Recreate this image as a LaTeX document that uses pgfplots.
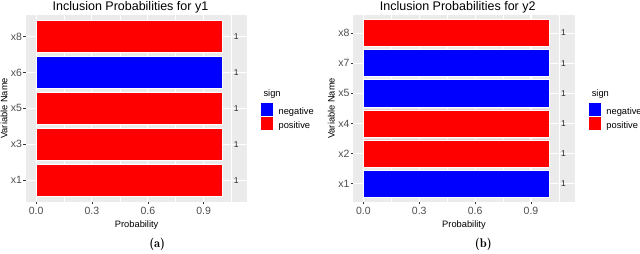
\documentclass[border=0pt]{standalone}
\usepackage{fontspec}
\newfontfamily\arial{Liberation Sans}
\usepackage{pgfplots}
\pgfplotsset{compat=1.18}
\definecolor{ggbg}{HTML}{EBEBEB}
\definecolor{ggtext}{HTML}{4D4D4D}
\definecolor{ggtk}{HTML}{333333}
\definecolor{ggblue}{HTML}{0000FF}
\definecolor{ggred}{HTML}{FF0000}
\pgfplotsset{
  negkey/.style={legend image code/.code={\path[fill=ggblue,draw=white,line width=0.4pt] (0pt,-4.3pt) rectangle (12.7pt,9.1pt);}},
  poskey/.style={legend image code/.code={\path[fill=ggred,draw=white,line width=0.4pt] (0pt,-4.3pt) rectangle (12.7pt,9.1pt);}},
  ggstyle/.style={
    scale only axis, width=221.3pt, height=186.7pt,
    anchor=south west,
    axis background/.style={fill=ggbg},
    axis line style={draw=none},
    xmin=-0.054, xmax=1.134,
    xtick={0,0.3,0.6,0.9}, xticklabels={0.0,0.3,0.6,0.9},
    minor xtick={0.15,0.45,0.75,1.05},
    xmajorgrids, xminorgrids, ymajorgrids,
    major grid style={white, line width=1.1pt},
    minor grid style={white, line width=0.55pt},
    tick align=outside, xtick pos=bottom, ytick pos=left,
    major tick length=2.75pt, minor tick length=0pt,
    major tick style={ggtk, line width=0.55pt},
    tick label style={font=\arial\fontsize{10.5}{12}\selectfont, text=ggtext},
    /pgf/number format/assume math mode=true,
    xticklabel style={anchor=north, inner sep=0pt, yshift=-3pt},
    yticklabel style={anchor=east, inner sep=0pt, xshift=-1pt},
    xlabel={Probability}, ylabel={Variable Name},
    label style={font=\arial\fontsize{9.3}{11}\selectfont},
    xlabel style={at={(axis description cs:0.5,-0.1366)}, anchor=base},
    ylabel style={at={(axis description cs:-0.0994,0.5)}, anchor=center},
    title style={at={(axis description cs:0.472,1)}, anchor=base, yshift=-1pt, font=\arial\fontsize{12.5}{14}\selectfont},
    legend style={anchor=north west, draw=none, fill=none, inner sep=0pt, outer sep=0pt, row sep=0pt,
      font=\arial\fontsize{9.3}{11}\selectfont, nodes={inner sep=0pt},
      /tikz/every odd column/.append style={column sep=5.5pt}},
    legend cell align=left,
  },
  lab/.style={only marks, mark=none, forget plot, nodes near coords={1},
    every node near coord/.style={font=\arial\fontsize{8.5}{9}\selectfont, anchor=center, text=black!85}},
}
\begin{document}
\begin{tikzpicture}
\useasboundingbox (0,0) rectangle (640pt,254pt);
\begin{axis}[ggstyle, at={(26pt,52.3pt)},
  ymin=0.4, ymax=5.6, ytick={1,2,3,4,5}, yticklabels={x1,x3,x5,x6,x8},
  title={Inclusion Probabilities for y1},
  legend style={at={(axis description cs:1.0574,0.5324)}}]
\addplot[xbar, bar width=0.9, bar shift=0pt, fill=ggblue, draw=white, line width=0.6pt, negkey] coordinates {(1,4)};
\addlegendentry{negative}
\addplot[xbar, bar width=0.9, bar shift=0pt, fill=ggred, draw=white, line width=0.6pt, poskey] coordinates {(1,1) (1,2) (1,3) (1,5)};
\addlegendentry{positive}
\addplot[lab] coordinates {(1.075,1) (1.075,2) (1.075,3) (1.075,4) (1.075,5)};
\end{axis}
\begin{axis}[ggstyle, at={(353.3pt,52.3pt)},
  ymin=0.4, ymax=6.6, ytick={1,2,3,4,5,6}, yticklabels={x1,x2,x4,x5,x7,x8},
  title={Inclusion Probabilities for y2},
  legend style={at={(axis description cs:1.06,0.5324)}}]
\addplot[xbar, bar width=0.9, bar shift=0pt, fill=ggblue, draw=white, line width=0.6pt, negkey] coordinates {(1,1) (1,4) (1,5)};
\addlegendentry{negative}
\addplot[xbar, bar width=0.9, bar shift=0pt, fill=ggred, draw=white, line width=0.6pt, poskey] coordinates {(1,2) (1,3) (1,6)};
\addlegendentry{positive}
\addplot[lab] coordinates {(1.075,1) (1.075,2) (1.075,3) (1.075,4) (1.075,5) (1.075,6)};
\end{axis}
\node[anchor=base west, font=\arial\fontsize{9.3}{11}\selectfont] at (260pt,157.5pt) {sign};
\node[anchor=base west, font=\arial\fontsize{9.3}{11}\selectfont] at (588.3pt,157.5pt) {sign};
\node[anchor=base, font=\fontsize{12.5}{14}\fontseries{b}\selectfont] at (157.2pt,6.3pt) {(a)};
\node[anchor=base, font=\fontsize{12.5}{14}\fontseries{b}\selectfont] at (483.3pt,6.3pt) {(b)};
\end{tikzpicture}
\end{document}
